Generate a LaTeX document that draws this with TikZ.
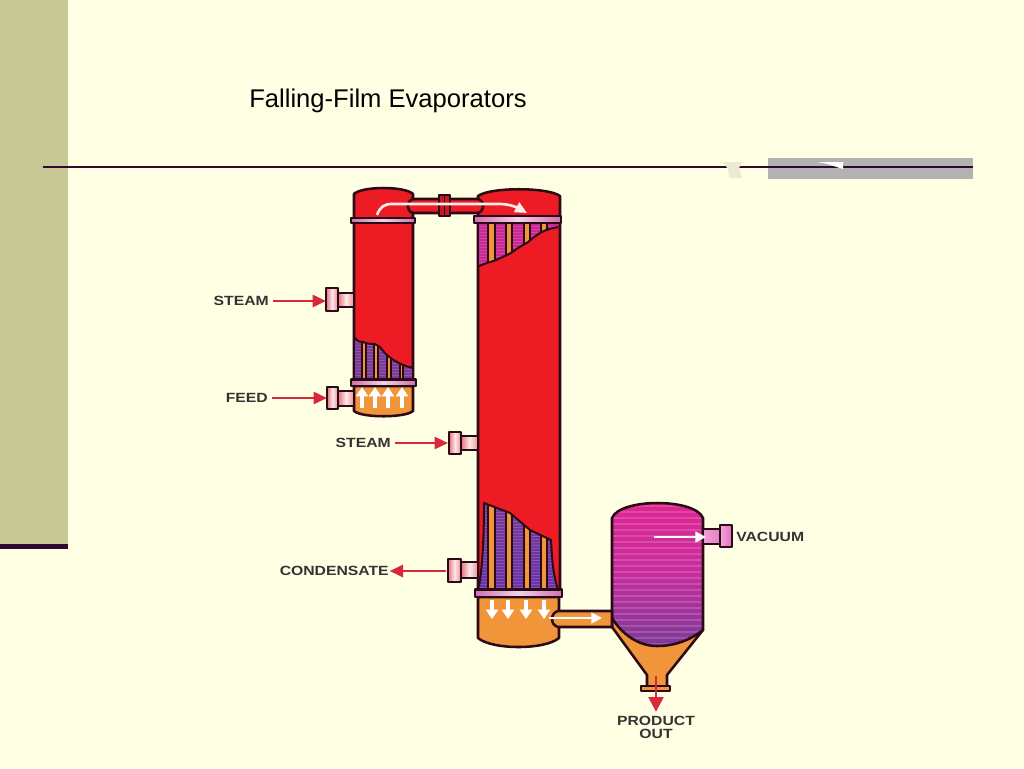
\documentclass[tikz,border=0pt]{standalone}
\usepackage{fontspec}
\setmainfont{Liberation Sans}
\usetikzlibrary{arrows.meta}
\definecolor{bgc}{HTML}{FFFFE3}
\definecolor{sidec}{HTML}{C8C896}
\definecolor{darkc}{HTML}{2E0A2E}
\definecolor{grayc}{HTML}{B2B2B2}
\definecolor{ink}{HTML}{2A0A14}
\definecolor{redc}{HTML}{ED1C24}
\definecolor{orgc}{HTML}{F0953A}
\definecolor{magc}{HTML}{DB2AA0}
\definecolor{purc}{HTML}{7A3A98}
\definecolor{arrc}{HTML}{D8283C}
\definecolor{txtc}{HTML}{333333}
\definecolor{salm}{HTML}{E8707A}
\definecolor{pinkf}{HTML}{D070B0}
\tikzset{
  outl/.style={draw=ink,line width=1.9pt,line join=round},
  redbody/.style={outl,fill=redc},
  orgbody/.style={outl,fill=orgc},
  tubeb/.style={draw=ink,line width=1.1pt,fill=orgc},
  edgeb/.style={draw=ink,line width=1.5pt,line join=round},
  redarr/.style={draw=arrc,line width=1.9pt,-{Triangle[length=10pt,width=9pt]}},
  whitearr/.style={draw=white,line width=1.9pt,-{Triangle[length=8pt,width=8pt]}},
  downarr/.style={draw=white,line width=2.6pt,-{Triangle[length=7pt,width=9pt]}},
  uparr/.style={draw=white,line width=2.6pt,-{Triangle[length=7pt,width=9pt]}},
  lbl/.style={text=txtc,inner sep=0pt,font=\fontsize{10}{9}\selectfont\bfseries},
  flshade/.style={outl,left color=pinkf,right color=pinkf,middle color=white!70!pinkf},
  nzshade/.style={outl,left color=salm,right color=salm!80!white,middle color=white!85!salm}
}
\newcommand{\wlbl}[1]{\scalebox{1.18}[1]{#1}}
\newcommand{\stripes}[4]{% x0,x1,y list
  \foreach \yy in {#3,...,#4}{\draw[white,opacity=.16,line width=.55pt] (#1,\yy) -- (#2,\yy);}}
\begin{document}
\begin{tikzpicture}[x=0.75pt,y=-0.75pt]
\useasboundingbox (0,0) rectangle (1024,768);
\fill[bgc] (0,0) rectangle (1024,768);
% slide furniture
\fill[sidec] (0,0) rectangle (68,544);
\fill[darkc] (0,544) rectangle (68,549);
\fill[grayc] (768,158) rectangle (973,179);
\draw[darkc,line width=1.9pt] (43,167) -- (973,167);
\fill[black!8!bgc] (720,162) .. controls (727,164) and (729,170) .. (729,178) -- (742,178) -- (739,168) -- (742,162) -- cycle;
\fill[white] (817,162) -- (843,162) -- (843,169) .. controls (833,166) and (826,163) .. (817,162) -- cycle;
\node[inner sep=0pt,anchor=west,font=\fontsize{19.2}{21}\selectfont,text=black] (title) at (249,100.5) {Falling-Film Evaporators};

% small evaporator
\path[redbody] (354,194) .. controls (362,186) and (405,186) .. (413,194) -- (413,380) -- (354,380) -- cycle;
\begin{scope}
\clip (354,337) .. controls (358,342) and (360,342) .. (363,342) .. controls (370,345) and (374,343) .. (377,345) .. controls (382,348) and (384,353) .. (387,355) .. controls (393,360) and (400,365) .. (413,368) -- (413,380) -- (354,380) -- cycle;
\fill[purc] (354,335) rectangle (413,380);
\stripes{354}{413}{336,339}{381}
\foreach \a/\b in {362/366,374/378,387/391,400/403}{\draw[tubeb] (\a,335) rectangle (\b,381);}
\end{scope}
\draw[edgeb] (354,337) .. controls (358,342) and (360,342) .. (363,342) .. controls (370,345) and (374,343) .. (377,345) .. controls (382,348) and (384,353) .. (387,355) .. controls (393,360) and (400,365) .. (413,368);
\path[outl] (354,194) -- (354,380) (413,194) -- (413,380);
\path[orgbody] (354,386) -- (413,386) -- (413,411) .. controls (405,418) and (362,418) .. (354,411) -- cycle;
\path[flshade] (351,379.5) rectangle (416,386);
\path[flshade] (351,218) rectangle (415,223);

% large evaporator
\path[redbody] (478,196) .. controls (490,187) and (548,187) .. (560,196) -- (560,590) -- (478,590) -- cycle;
\begin{scope}
\clip (478,222) -- (559,222) -- (558,227) .. controls (548,229) and (542,231) .. (537,235) .. controls (532,238) and (528,243) .. (523,245) .. controls (517,248) and (512,253) .. (507,255) .. controls (500,258) and (495,261) .. (490,262) .. controls (486,263) and (482,265) .. (479,266) -- cycle;
\fill[magc!92!black] (478,222) rectangle (560,268);
\stripes{478}{560}{223,226}{268}
\foreach \a/\b in {488/495,506/512,524/530,541/547}{\draw[tubeb] (\a,220) rectangle (\b,270);}
\end{scope}
\draw[edgeb] (558,227) .. controls (548,229) and (542,231) .. (537,235) .. controls (532,238) and (528,243) .. (523,245) .. controls (517,248) and (512,253) .. (507,255) .. controls (500,258) and (495,261) .. (490,262) .. controls (486,263) and (482,265) .. (479,266);
\begin{scope}
\clip (484,503) -- (510,513) -- (530,530) -- (551,540) .. controls (552,555) and (552,570) .. (558,590) -- (478,590) .. controls (482,575) and (484,540) .. (484,503) -- cycle;
\shade[top color=purc,bottom color=purc!85!blue] (478,500) rectangle (560,590);
\stripes{478}{560}{503,506}{590}
\foreach \a/\b in {488/495,506/512,524/530,541/547}{\draw[tubeb] (\a,498) rectangle (\b,592);}
\end{scope}
\draw[edgeb] (478,590) .. controls (482,575) and (484,540) .. (484,503) -- (510,513) -- (530,530) -- (551,540) .. controls (552,555) and (552,570) .. (558,590);
\path[outl] (478,196) -- (478,590) (560,196) -- (560,590);
\path[orgbody] (478,597) -- (559,597) -- (559,638) .. controls (545,650) and (492,650) .. (478,638) -- cycle;
\path[flshade] (475,589.5) rectangle (562,597);
\path[flshade] (474,216) rectangle (561,223);

% connecting pipe, over both shells, with its flange and flash arrow
\path[redbody] (413,199) -- (478,199) .. controls (485,201) and (485,211) .. (478,213) -- (413,213) .. controls (406,211) and (406,201) .. (413,199) -- cycle;
\path[outl,fill=redc!85!black] (439,195) rectangle (450,216);
\draw[ink,line width=.8pt] (444.5,195) -- (444.5,216);
\draw[white!92!red,line width=2pt,-{Triangle[length=9pt,width=8pt]}] (377,215) .. controls (380,207) and (384,204) .. (392,204) -- (500,204) .. controls (510,204) and (518,208) .. (527,213);

% separator
\path[orgbody] (612,616) -- (703,630) -- (667,675) -- (667,687) -- (647,687) -- (647,675) -- (612,627) -- cycle;
\begin{scope}
\clip (612,518) .. controls (620,498) and (695,498) .. (703,518) -- (703,630) .. controls (690,640) and (675,646) .. (657,646) .. controls (638,646) and (622,634) .. (612,618) -- cycle;
\shade[top color=magc!90!red,bottom color=purc,middle color=magc!80!purc] (610,500) rectangle (705,648);
\foreach \yy in {506,512,...,648}{\draw[white,opacity=.16,line width=1pt] (610,\yy) -- (705,\yy);}
\end{scope}
\path[outl] (612,518) .. controls (620,498) and (695,498) .. (703,518) -- (703,630) .. controls (690,640) and (675,646) .. (657,646) .. controls (638,646) and (622,634) .. (612,618) -- cycle;
\path[outl,fill=orgc] (641,686) rectangle (670,691);
% transfer pipe
\path[orgbody] (612,611) -- (558,611) .. controls (550,613) and (550,625) .. (558,627) -- (612,627) -- cycle;

% arrows inside vessels
\foreach \xx in {362,375,388,402}{\coordinate (u\xx) at (\xx,408); \coordinate (v\xx) at (\xx,387);\draw[uparr] (u\xx) -- (v\xx);}
\foreach \xx in {492,508,526,544}{\coordinate (d\xx) at (\xx,600); \coordinate (e\xx) at (\xx,619);\draw[downarr] (d\xx) -- (e\xx);}
\coordinate (xferA) at (549,618); \coordinate (xferB) at (602,618);
\draw[whitearr] (xferA) -- (xferB);

% nozzles
\path[nzshade] (338,293) rectangle (354,307);
\path[nzshade] (326,288) rectangle (338,311);
\path[nzshade] (338,391) rectangle (354,406);
\path[nzshade] (327,387) rectangle (338,409);
\path[nzshade] (461,436) rectangle (478,450);
\path[nzshade] (449,432) rectangle (461,454);
\path[nzshade] (461,562) rectangle (478,578);
\path[nzshade] (448,559) rectangle (461,582);
\path[outl,left color=magc!45!white,right color=magc!60!white] (703,529) rectangle (720,544);
\path[outl,left color=magc!40!white,right color=magc!70!white] (720,525) rectangle (732,547);
\coordinate (vacA) at (654,537); \coordinate (vacB) at (706,537);
\draw[whitearr] (vacA) -- (vacB);

% labels
\node[lbl,anchor=east] (steamA) at (269,301) {\wlbl{STEAM}};
\node[lbl,anchor=east] (feed) at (268,398) {\wlbl{FEED}};
\node[lbl,anchor=east] (steamB) at (391,443) {\wlbl{STEAM}};
\node[lbl,anchor=east] (cond) at (389,571) {\wlbl{CONDENSATE}};
\node[lbl,anchor=west] (vac) at (736,537) {\wlbl{VACUUM}};
\node[lbl] (prod) at (656,729) {\wlbl{\begin{tabular}{@{}c@{}}PRODUCT\\OUT\end{tabular}}};

% connectors
\coordinate (nzA) at (326,301); \coordinate (nzB) at (327,398); \coordinate (nzC) at (448,443); \coordinate (nzD) at (446,571);
\draw[redarr] ([xshift=3pt]steamA.east) -- (nzA);
\draw[redarr] ([xshift=3pt]feed.east) -- (nzB);
\draw[redarr] ([xshift=3pt]steamB.east) -- (nzC);
\draw[redarr] (nzD) -- ([xshift=0.5pt]cond.east);
\coordinate (outA) at (656,676);
\draw[draw=arrc,line width=2pt,-{Triangle[length=11pt,width=11pt]}] (outA) -- ([yshift=3pt]prod.north);
\end{tikzpicture}
\end{document}
